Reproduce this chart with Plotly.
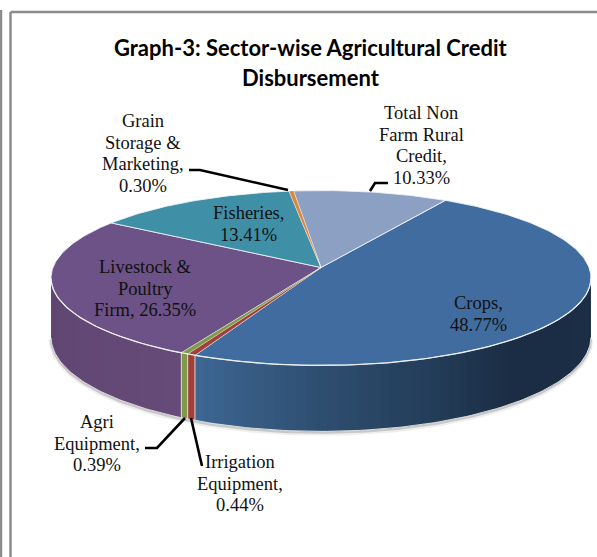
import numpy as np
import plotly.graph_objects as go

# Sector shares of agricultural credit disbursement, clockwise from Crops
sectors = ["Crops", "Irrigation Equipment", "Agri Equipment", "Livestock & Poultry Firm",
           "Fisheries", "Grain Storage & Marketing", "Total Non Farm Rural Credit"]
shares = [48.77, 0.44, 0.39, 26.35, 13.41, 0.30, 10.33]
top_colors = ["#416c9f", "#a23f3b", "#7f9a48", "#6c5286", "#3f8fa6", "#d9863f", "#8ca0c4"]
# Wall shading per sector: (angle in degrees, colour) stops
wall_shades = {
    0: [(97, "#1c2f47"), (140, "#1b2d44"), (180, "#2e4e70"), (206, "#3f6895")],
    1: [(200, "#a23f3b"), (215, "#a23f3b")],
    2: [(200, "#7f9a48"), (215, "#7f9a48")],
    3: [(205, "#674b79"), (263, "#5f4671"), (275, "#5f4671")],
}

START_DEG = 30.0
CX, CY = 321.0, 267.5      # apex of the disc on the page
AX, BY, PERSP = 268.0, 86.2, 0.12
WALL = 58.0


def rim(theta_deg, drop=0.0):
    # Small angular correction for the off-axis viewpoint of the tilted disc
    t = np.radians(theta_deg + 0.8 * np.cos(np.radians(theta_deg - START_DEG)))
    w = 1 + PERSP * np.cos(t)
    return CX + AX * np.sin(t) / w, CY - BY * np.cos(t) / w + drop / w


def hex_rgb(c):
    return np.array([int(c[i:i + 2], 16) for i in (1, 3, 5)], float)


def shade(stops, angle):
    angles = [s[0] for s in stops]
    rgb = np.array([hex_rgb(s[1]) for s in stops])
    vals = [np.interp(angle, angles, rgb[:, k]) for k in range(3)]
    return "rgb(%d,%d,%d)" % tuple(vals)


fig = go.Figure()


def poly(xs, ys, fill, line=None, width=0):
    fig.add_trace(go.Scatter(x=xs, y=ys, mode="lines", fill="toself", fillcolor=fill,
                             line=dict(color=line or fill, width=width),
                             hoverinfo="skip", showlegend=False))


def path(xs, ys, color, width):
    fig.add_trace(go.Scatter(x=xs, y=ys, mode="lines", line=dict(color=color, width=width),
                             hoverinfo="skip", showlegend=False))


edges = START_DEG + np.concatenate([[0], np.cumsum(shares)]) * 3.6

# Soft shadow under the front of the disc
front = np.linspace(97, 263, 160)
fx, fy = rim(front, WALL)
path(fx, fy + 2.0, "rgba(120,120,120,0.12)", 5)
path(fx, fy + 1.2, "rgba(110,110,110,0.30)", 2.5)

# Cylinder wall: each strip runs under its neighbour so no seams show between them
for i, stops in wall_shades.items():
    a0, a1 = max(edges[i], 96.9), min(edges[i + 1], 263.1)
    n = max(2, int((a1 - a0) / 2.0) + 1)
    steps = np.linspace(a0, a1, n)
    for k, s0 in enumerate(steps[:-1]):
        s_end = steps[min(k + 2, n - 1)]
        seg = np.linspace(s0, s_end, 6)
        tx, ty = rim(seg)
        bx, by = rim(seg[::-1], WALL)
        col = shade(stops, (s0 + steps[k + 1]) / 2)
        poly(np.r_[tx, bx, tx[0]], np.r_[ty, by, ty[0]], col)

# Pale edges on the wall between sectors and along its foot
path(fx, fy, "rgba(235,235,235,0.9)", 1)
for i in (0, 1, 2):
    x0, y0 = rim(edges[i + 1])
    x1, y1 = rim(edges[i + 1], WALL)
    path([x0, x1], [y0, y1], "rgba(225,225,225,0.9)", 1)

# Top face of the disc; thin sectors are painted last so they stay visible
order = sorted(range(len(shares)), key=lambda k: -shares[k])
for i in order:
    seg = np.linspace(edges[i], edges[i + 1], max(3, int(shares[i] * 3.6)))
    rx, ry = rim(seg)
    thin = shares[i] < 1
    poly(np.r_[CX, rx, CX], np.r_[CY, ry, CY], top_colors[i],
         "rgba(255,255,255,0.55)" if thin else "rgba(240,243,248,0.85)", 0.5 if thin else 1)

# Light rim along the front of the top face
tx, ty = rim(front)
path(tx, ty, "rgba(240,240,240,0.95)", 1.2)

# Leader lines from outlying labels to their sectors
leaders = [
    ([189, 200, 288], [170, 170, 190]),
    ([388, 375, 370], [183, 183, 191]),
    ([145, 157, 185], [448, 448, 418]),
    ([191, 202], [418, 466]),
]
for lx, ly in leaders:
    path(lx, ly, "#000000", 2.6)

# Multi-line text: centre x, first-line y, lines
labels = [
    (143, 121, ["Grain", "Storage &", "Marketing,", "0.30%"]),
    (421, 113, ["Total Non", "Farm Rural", "Credit,", "10.33%"]),
    (248, 213, ["Fisheries,", "13.41%"]),
    (145, 267, ["Livestock &", "Poultry", "Firm, 26.35%"]),
    (478, 303, ["Crops,", "48.77%"]),
    (97, 422, ["Agri", "Equipment,", "0.39%"]),
    (240, 462, ["Irrigation", "Equipment,", "0.44%"]),
]
annotations = []
for x, y, lines in labels:
    for n, text in enumerate(lines):
        annotations.append(dict(x=x, y=y + n * 21.6, text=text, showarrow=False,
                                xanchor="center", yanchor="middle",
                                font=dict(family="Liberation Serif", size=18.5, color="#111111")))
for y, text in [(47, "<b>Graph-3: Sector-wise Agricultural Credit</b>"), (77, "<b>Disbursement</b>")]:
    annotations.append(dict(x=310.5, y=y, text=text, showarrow=False, xanchor="center", yanchor="middle",
                            font=dict(family="Lato", size=22, color="#000000")))

# Page frame
frame = dict(type="line", line=dict(color="#8c8c8c", width=2.5), layer="below")
shapes = [
    dict(frame, x0=1, x1=1, y0=10, y1=557),
    dict(frame, x0=10.5, x1=10.5, y0=12, y1=557),
    dict(frame, x0=10.5, x1=597, y0=12, y1=12),
]

fig.update_layout(
    width=597, height=557, margin=dict(l=0, r=0, t=0, b=0),
    paper_bgcolor="white", plot_bgcolor="white",
    xaxis=dict(range=[0, 597], visible=False, fixedrange=True),
    yaxis=dict(range=[557, 0], visible=False, fixedrange=True),
    annotations=annotations, shapes=shapes, showlegend=False,
)
fig.write_html("out.html")
